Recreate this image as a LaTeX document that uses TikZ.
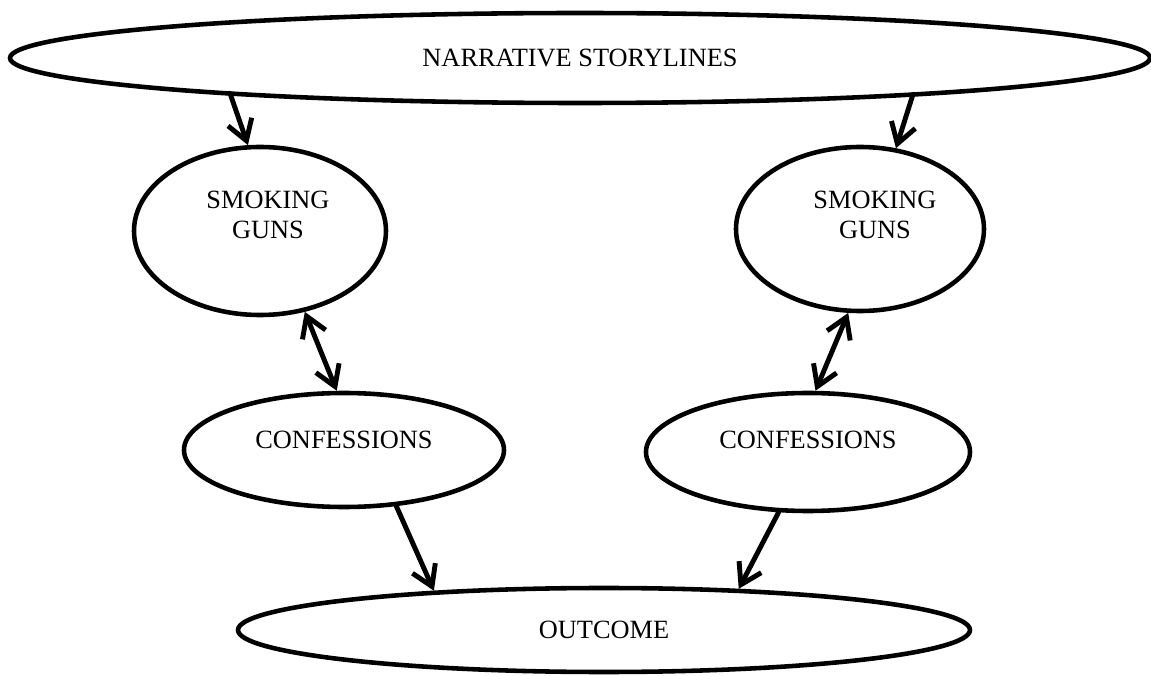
\documentclass[tikz,border=0pt]{standalone}
\usepackage{fontspec}
\setmainfont{Liberation Serif}
\usetikzlibrary{arrows.meta,shapes.geometric}
\begin{document}
\begin{tikzpicture}[>={Straight Barb[length=0.4cm,width=0.5cm]},
    oval/.style={ellipse,draw,line width=2.6pt,inner sep=0pt},
    lbl/.style={align=center,font=\fontsize{15}{17}\selectfont},
    arr/.style={line width=2.8pt,line cap=round}]
    \useasboundingbox (0,0) rectangle (23.02,13.5);

    \node[oval,lbl,minimum width=22.8cm,minimum height=1.8cm] (narr) at (11.6,12.34) {NARRATIVE STORYLINES};
    \coordinate (narrl) at ([xshift=-7cm,yshift=0.24cm]narr.south);
    \coordinate (narrr) at ([xshift=6.66cm,yshift=0.22cm]narr.south);

    \node[oval,minimum width=5.04cm,minimum height=3.36cm] (sgl) at (5.2,8.88) {};
    \node[lbl] (sgltxt) at (5.36,9.2) {SMOKING\\GUNS};
    \node[oval,minimum width=4.96cm,minimum height=3.28cm] (sgr) at (17.2,8.92) {};
    \node[lbl] (sgrtxt) at (17.5,9.2) {SMOKING\\GUNS};

    \node[oval,minimum width=6.4cm,minimum height=2.28cm] (cfl) at (6.88,4.5) {};
    \node[lbl] (cfltxt) at (6.88,4.7) {CONFESSIONS};
    \node[oval,minimum width=6.48cm,minimum height=2.36cm] (cfr) at (16.16,4.46) {};
    \node[lbl] (cfrtxt) at (16.16,4.7) {CONFESSIONS};

    \node[oval,lbl,minimum width=14.64cm,minimum height=1.68cm] (out) at (12.08,0.9) {OUTCOME};

    \draw[arr,->] (narrl) -- (sgl.98);
    \draw[arr,->] (narrr) -- (sgr.66);
    \draw[arr,<->] (sgl.-61) -- (cfl.97);
    \draw[arr,<->] (sgr.-98) -- (cfr.83);
    \draw[arr,->] (cfl.-47) -- (out.167);
    \draw[arr,->] (cfr.-116) -- (out.17.2);
\end{tikzpicture}
\end{document}
